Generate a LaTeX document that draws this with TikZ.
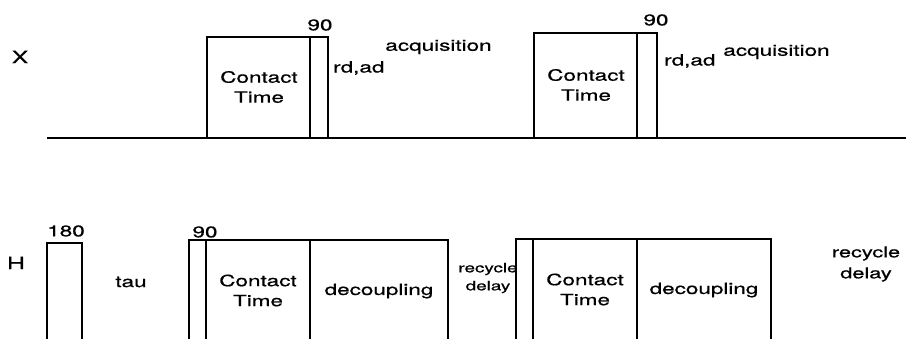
\documentclass[tikz,border=0pt]{standalone}
\usepackage{fontspec}
\setmainfont[FakeStretch=1.45,FakeBold=0.7]{TeX Gyre Heros}
\begin{document}
\begin{tikzpicture}[x=1pt,y=1pt,
  pulse/.style={line width=2pt, line join=miter},
  axis/.style={line width=2pt},
  lbl/.style={inner sep=0pt, font=\fontsize{15.5}{20}\selectfont, align=center},
  small/.style={inner sep=0pt, font=\fontsize{13}{18}\selectfont, align=center}]
\path[use as bounding box] (0,0) rectangle (906,339);
\begin{scope}
\clip (0,0) rectangle (906,339);

% ---- X channel ----
\coordinate (xstart) at (47,201);
\coordinate (xend) at (906,201);
\draw[axis] (xstart) -- (xend);
% first contact block with 90 pulse
\draw[pulse] (207,201) -- (207,302) -- (328,302) -- (328,201);
\draw[pulse] (310,201) -- (310,302);
% second contact block with 90 pulse
\draw[pulse] (534,201) -- (534,306) -- (657,306) -- (657,201);
\draw[pulse] (637,201) -- (637,306);

\node[lbl, font=\fontsize{17}{20}\selectfont] (xl) at (20,282) {X};
\node[lbl] (x90a) at (320,314) {90};
\node[lbl, anchor=west] (rda) at (333,271) {rd,ad};
\node[lbl] (acqa) at (438.5,292) {acquisition};
\node[lbl] (cta) at (259,252) {Contact\\Time};
\node[lbl] (x90b) at (656,319) {90};
\node[lbl, anchor=west] (rdb) at (664,278) {rd,ad};
\node[lbl] (acqb) at (776.5,287) {acquisition};
\node[lbl] (ctb) at (586,254) {Contact\\Time};

% ---- H channel ----
\draw[pulse] (47,-5) -- (47,96) -- (82,96) -- (82,-5);
\draw[pulse] (189,-5) -- (189,99) -- (448,99) -- (448,-5);
\draw[pulse] (206,-5) -- (206,99);
\draw[pulse] (310,-5) -- (310,99);
\node[small] (rdsmall) at (488,61) {recycle\\delay};
\draw[pulse] (516,-5) -- (516,100) -- (771,100) -- (771,-5);
\draw[pulse] (533,-5) -- (533,100);
\draw[pulse] (637,-5) -- (637,100);

\node[lbl, font=\fontsize{17}{20}\selectfont] (hl) at (16,76) {H};
\node[lbl] (h180) at (66,108) {180};
\node[lbl] (tau) at (131,57) {tau};
\node[lbl] (h90) at (205,107) {90};
\node[lbl] (ctc) at (258,48.5) {Contact\\Time};
\node[lbl] (deca) at (379,48) {decoupling};
\node[lbl] (ctd) at (585,49.5) {Contact\\Time};
\node[lbl] (decb) at (704,49) {decoupling};
\node[lbl, font=\fontsize{15}{21}\selectfont] (rdbig) at (866,75) {recycle\\delay};
\end{scope}
\end{tikzpicture}
\end{document}
